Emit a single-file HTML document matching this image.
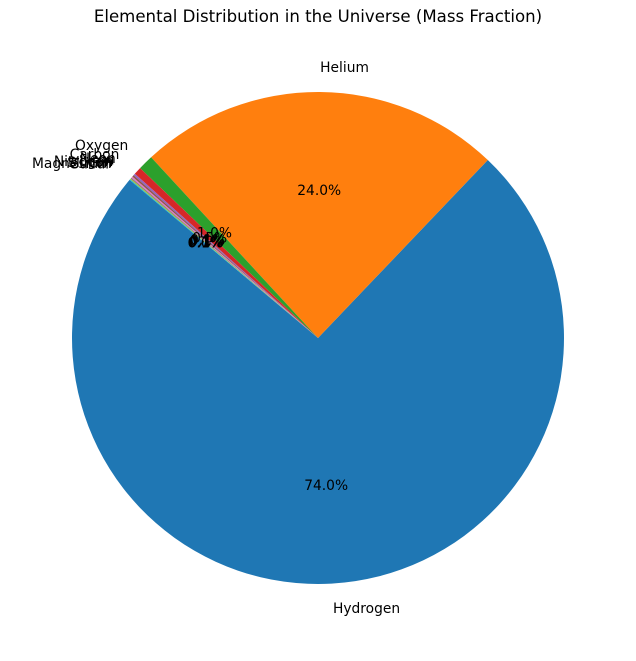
<!DOCTYPE html>
<html><head><meta charset="utf-8"><style>
body{margin:0;background:#fff;}
svg text{font-family:"DejaVu Sans","Liberation Sans",sans-serif;}
</style></head><body>
<svg id="chart" width="636" height="656">
<text x="318" y="22" text-anchor="middle" font-size="16.6">Elemental Distribution in the Universe (Mass Fraction)</text>
</svg>
<script>
const labels = ["Hydrogen","Helium","Oxygen","Carbon","Neon","Iron","Nitrogen","Silicon","Magnesium","Sulfur"];
const values = [74,24,1.0,0.5,0.13,0.11,0.1,0.07,0.06,0.05];
const colors = ["#1f77b4","#ff7f0e","#2ca02c","#d62728","#9467bd","#8c564b","#e377c2","#7f7f7f","#bcbd22","#17becf"];
const svg = document.getElementById('chart');
const NS = "http://www.w3.org/2000/svg";
const cx = 318, cy = 338, r = 246, start = 140;
const total = values.reduce((a,b)=>a+b,0);
function pt(deg, rad){const a=deg*Math.PI/180;return [cx+rad*Math.cos(a), cy-rad*Math.sin(a)];}
let ang = start;
values.forEach((v,i)=>{
  const sweep = v/total*360;
  const a1 = ang, a2 = ang+sweep;
  const p1 = pt(a1,r), p2 = pt(a2,r);
  const large = sweep>180?1:0;
  const path = document.createElementNS(NS,'path');
  path.setAttribute('d',`M${cx},${cy} L${p1[0]},${p1[1]} A${r},${r} 0 ${large} 0 ${p2[0]},${p2[1]} Z`);
  path.setAttribute('fill',colors[i]);
  
  
  svg.appendChild(path);
  ang = a2;
});
ang = start;
values.forEach((v,i)=>{
  const sweep = v/total*360;
  const mid = ang+sweep/2;
  const lp = pt(mid, r*1.1);
  const t = document.createElementNS(NS,'text');
  t.setAttribute('x',lp[0]); t.setAttribute('y',lp[1]+4.8);
  t.setAttribute('font-size','13.8');
  t.setAttribute('text-anchor', Math.cos(mid*Math.PI/180)<0?'end':'start');
  t.textContent = labels[i];
  
  
  svg.appendChild(t);
  const pp = pt(mid, r*0.6);
  const p = document.createElementNS(NS,'text');
  p.setAttribute('x',pp[0]); p.setAttribute('y',pp[1]+4.8);
  p.setAttribute('font-size','13.8');
  p.setAttribute('text-anchor','middle');
  p.textContent = (v/total*100).toFixed(1)+'%';
  
  
  svg.appendChild(p);
  ang += sweep;
});
</script>
</body></html>
